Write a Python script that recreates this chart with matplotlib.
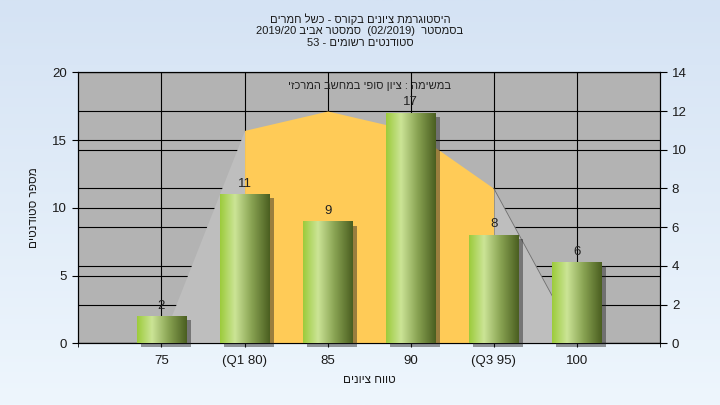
import re
import numpy as np
import matplotlib
matplotlib.use('Agg')
import matplotlib.pyplot as plt
import matplotlib.patheffects as pe
from matplotlib.colors import LinearSegmentedColormap

plt.rcParams['font.family'] = ['Liberation Sans', 'DejaVu Sans']

# data
categories = ['75', '(Q1 80)', '85', '90', '(Q3 95)', '100']
students = [2, 11, 9, 17, 8, 6]
curve = [0.1, 11, 12, 11, 8, 0.1]     # background polygon, right axis units
q1_idx = 1
q3_idx = 4

title_lines = [
    'היסטוגרמת ציונים בקורס - כשל חמרים',
    'בסמסטר  (02/2019)  סמסטר אביב 2019/20',
    'סטודנטים רשומים - 53',
]
task_label = 'במשימה : ציון סופי במחשב המרכזי'
y_label = 'מספר סטודנטים'
x_label = 'טווח ציונים'

TXT = '#1a1a1a'


def rtl(s):
    # matplotlib has no bidi support, so put the hebrew in visual order by hand
    s = s[::-1].translate(str.maketrans('()', ')('))
    return re.sub(r'[0-9A-Za-z/.]+', lambda m: m.group(0)[::-1], s)


fig = plt.figure(figsize=(7.2, 4.05), dpi=100)

# light blue gradient behind everything
bg = fig.add_axes([0, 0, 1, 1], zorder=-10)
bg_cmap = LinearSegmentedColormap.from_list('bg', ['#D5E3F4', '#EEF6FD'])
bg.imshow(np.linspace(0, 1, 256).reshape(-1, 1), aspect='auto', cmap=bg_cmap,
          extent=[0, 1, 0, 1], origin='upper')
bg.axis('off')

x = np.arange(1, len(categories) + 1)

# bottom layer: left scale, background and its grid
ax = fig.add_axes([0.1088, 0.1523, 0.8079, 0.6692], zorder=0)
ax.set_facecolor('#B3B3B3')
ax.grid(True, color='black', lw=0.8)
ax.set_yticks([0, 5, 10, 15, 20])
ax.set_xticks(x)
ax.set_xticklabels(categories)
ax.set_xticks([0, len(categories) + 1], minor=True)
ax.tick_params(axis='y', direction='out', length=4.3, pad=4, labelsize=9.5, labelcolor=TXT)
ax.tick_params(axis='x', which='both', direction='out', length=3, pad=5.5, labelsize=9.5, labelcolor=TXT)
for s in ax.spines.values():
    s.set_color('black')

# middle layer: right scale, its grid and the grade polygon
ax2 = ax.twinx()
ax2.set_zorder(1)
ax2.set_axisbelow(True)
ax2.set_ylim(0, 14)
ax2.set_yticks(np.arange(0, 15, 2))
ax2.yaxis.grid(True, color='black', lw=0.8)
ax2.tick_params(axis='y', direction='out', length=5, pad=3.5, labelsize=9.5, labelcolor=TXT)
for s in ax2.spines.values():
    s.set_color('black')

ax2.fill_between(x[:q1_idx + 1], curve[:q1_idx + 1], color='#BEBEBE', lw=0, zorder=1)
ax2.fill_between(x[q1_idx:q3_idx + 1], curve[q1_idx:q3_idx + 1], color='#FFCB57', lw=0, zorder=1)
ax2.fill_between(x[q3_idx:], curve[q3_idx:], color='#BEBEBE', lw=0, zorder=1)
ax2.plot(x[q3_idx:], curve[q3_idx:], color='#6E6E6E', lw=0.6, zorder=1.2)

# top layer: bars on the left scale
ax3 = ax.twinx()
ax3.set_zorder(2)
ax3.set_ylim(0, 20)
ax3.axis('off')

bars = ax3.bar(x, students, width=0.6, color='#8DB24A', zorder=2,
               path_effects=[pe.SimplePatchShadow(offset=(3, -3), shadow_rgbFace='#202020', alpha=0.45),
                             pe.Normal()])
bar_cmap = LinearSegmentedColormap.from_list(
    'bar', [(0, '#9CCB3B'), (0.3, '#CBE496'), (0.65, '#86A050'), (1, '#4A5E20')])
hgrad = np.linspace(0, 1, 256).reshape(1, -1)
for b in bars:
    b.set_clip_on(False)
    im = ax3.imshow(hgrad, cmap=bar_cmap, aspect='auto', zorder=3,
                    extent=[b.get_x(), b.get_x() + b.get_width(), 0, b.get_height()])
    im.set_clip_path(b)

for xi, v in zip(x, students):
    ax3.text(xi, v + 0.55, str(v), ha='center', va='baseline', fontsize=9.5, color='#222222', zorder=4)

ax3.text(0.5, 0.95, rtl(task_label), transform=ax3.transAxes, ha='center', va='center',
         fontsize=8, color='#222222', zorder=4)

ax.set_xlim(0, len(categories) + 1)
ax.set_ylim(0, 20)
ax3.set_ylim(0, 20)

# titles and axis labels
for i, line in enumerate(title_lines):
    fig.text(0.5, 0.953 - i * 0.03, rtl(line), ha='center', va='center', fontsize=8, color=TXT)
fig.text(0.047, 0.487, rtl(y_label), rotation=90, ha='center', va='center', fontsize=8.5, color=TXT)
fig.text(0.5127, 0.062, rtl(x_label), ha='center', va='center', fontsize=8.5, color=TXT)

fig.savefig('out.png', dpi=100)
